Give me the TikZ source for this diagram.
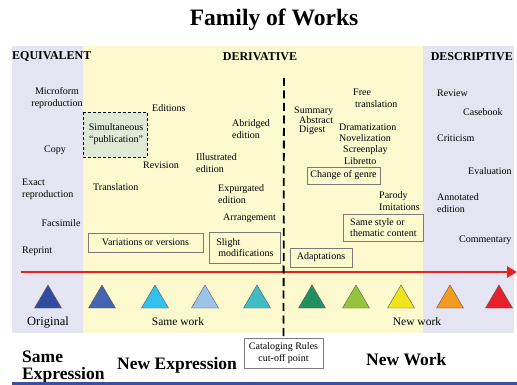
\documentclass[tikz,border=0pt]{standalone}
\usepackage{fontspec}
\setmainfont{Liberation Serif}
\usetikzlibrary{arrows.meta}
\definecolor{lav}{HTML}{E4E4F2}
\definecolor{ylw}{HTML}{FCF9CF}
\definecolor{grn}{HTML}{DFEAD6}
\definecolor{boxline}{HTML}{7A7A7A}
\definecolor{arrred}{HTML}{E82020}
\definecolor{botblue}{HTML}{3B4F9C}
\definecolor{t1}{HTML}{2F4C9E}
\definecolor{t2}{HTML}{4464B0}
\definecolor{t3}{HTML}{32C0EC}
\definecolor{t4}{HTML}{9CC4E8}
\definecolor{t5}{HTML}{40BCC4}
\definecolor{t6}{HTML}{22905E}
\definecolor{t7}{HTML}{94C43C}
\definecolor{t8}{HTML}{F0E41C}
\definecolor{t9}{HTML}{F49A1E}
\definecolor{t10}{HTML}{E8202A}
\tikzset{
  lbl/.style={inner sep=0pt, font=\fontsize{10}{12}\selectfont, align=left},
  lblw/.style={lbl, anchor=west},
  hdr/.style={inner sep=0pt, font=\fontsize{12}{14}\selectfont\bfseries},
  big/.style={inner sep=0pt, font=\fontsize{17.5}{16.5}\selectfont\bfseries, align=left},
  framebox/.style={draw=boxline, line width=0.8pt, fill=ylw, inner sep=0pt, font=\fontsize{10}{11}\selectfont, align=left},
  tri/.style={draw=gray!70!black, line width=0.4pt},
}
\begin{document}
\begin{tikzpicture}[x=1pt,y=-1pt]
\useasboundingbox (0,0) rectangle (517,385);
% background panels
\fill[lav] (12,46) rectangle (83,333);
\fill[ylw] (83,46) rectangle (423,333);
\fill[lav] (423,46) rectangle (514,333);
% title
\node[inner sep=0pt, font=\fontsize{23.5}{26}\selectfont\bfseries] (title) at (274,20) {Family of Works};
% headers
\node[hdr, anchor=west] (hEq) at (12,57) {EQUIVALENT};
\node[hdr] (hDer) at (260,57) {DERIVATIVE};
\node[hdr, anchor=east] (hDes) at (513,57) {DESCRIPTIVE};
% equivalent
\node[lbl, align=center] (micro) at (57,98) {Microform\\reproduction};
\node[lbl] (copy) at (55,150) {Copy};
\node[lblw] (exact) at (22,189) {Exact\\reproduction};
\node[lbl] (facs) at (61,223) {Facsimile};
\node[lblw] (reprint) at (22,251) {Reprint};
% derivative, same work
\draw[dashed, line width=0.9pt, dash pattern=on 3pt off 2pt, fill=grn] (83,112) rectangle (147,157);
\node[lbl, align=center] (simul) at (116,134) {Simultaneous\\“publication”};
\node[lblw] (editions) at (152,108) {Editions};
\node[lblw] (revision) at (143,165) {Revision};
\node[lblw] (illus) at (196,163) {Illustrated\\edition};
\node[lblw] (abr) at (232,129) {Abridged\\edition};
\node[lblw] (transl) at (93,187) {Translation};
\node[lblw] (expur) at (218,194) {Expurgated\\edition};
\node[lblw] (arr) at (223,218) {Arrangement};
\node[framebox, minimum width=115pt, minimum height=19pt, align=center] (var) at (145.5,242.5) {Variations or versions};
\node[framebox, minimum width=71pt, minimum height=31pt, anchor=north west, inner xsep=6pt, inner ysep=4pt] (slight) at (209,232) {Slight\\\hspace*{2pt}modifications};
% derivative, new work
\node[lblw, font=\fontsize{10}{8.6}\selectfont] (summ) at (294,120.5) {Summary\\\hspace*{5pt}Abstract\\\hspace*{5pt}Digest};
\node[lblw] (free) at (353,98) {Free\\\hspace*{2pt}translation};
\node[lblw, font=\fontsize{10}{11.3}\selectfont] (drama) at (339,144) {Dramatization\\Novelization\\\hspace*{4pt}Screenplay\\\hspace*{5pt}Libretto};
\node[framebox, minimum width=73pt, minimum height=17pt, align=center] (genre) at (343.5,175.5) {Change of genre};
\node[lblw] (parody) at (379,201.5) {Parody\\Imitations};
\node[framebox, minimum width=80pt, minimum height=27pt, anchor=north west, inner xsep=5pt] (style) at (343,214) {Same style or\\thematic content};
\node[framebox, minimum width=62pt, minimum height=19pt, align=center] (adapt) at (321,257.5) {Adaptations};
% descriptive
\node[lblw] (review) at (437,93) {Review};
\node[lblw] (case) at (463,112) {Casebook};
\node[lblw] (crit) at (437,138) {Criticism};
\node[lblw] (eval) at (468,171) {Evaluation};
\node[lblw] (annot) at (437,203) {Annotated\\edition};
\node[lblw] (comm) at (459,240) {Commentary};
% red arrow
\coordinate (aL) at (21,272);
\coordinate (aR) at (517,272);
\draw[arrred, line width=2.6pt, -{Triangle[length=10pt,width=11pt]}] (aL) -- (aR);
% triangles
\foreach \x/\c in {48/t1,102/t2,155/t3,205/t4,257/t5,312/t6,356/t7,401/t8,450/t9,499/t10}{
  \draw[tri, fill=\c] (\x-13.5,308) -- (\x,285) -- (\x+13.5,308) -- cycle;
}
% bottom labels in panel
\node[inner sep=0pt, font=\fontsize{12.5}{14}\selectfont] (orig) at (48,323) {Original};
\node[inner sep=0pt, font=\fontsize{11.5}{13}\selectfont] (samew) at (178,322) {Same work};
\node[inner sep=0pt, font=\fontsize{11.5}{13}\selectfont] (neww) at (417,322) {New work};
% cut-off
\node[draw=boxline, line width=0.8pt, fill=white, minimum width=79pt, minimum height=30pt, inner sep=0pt, align=center, font=\fontsize{10}{12}\selectfont] (cut) at (283.5,353) {Cataloging Rules\\cut-off point};
\coordinate (dtop) at (284,78);
\draw[line width=1.8pt, dash pattern=on 8pt off 4.5pt] (dtop) -- (cut.north);
% big labels
\node[big, anchor=west] (sameexp) at (22,367) {Same\\Expression};
\node[big, anchor=west] (newexp) at (117,365) {New Expression};
\node[big, anchor=west] (newwork) at (366,360) {New Work};
% bottom line
\coordinate (bl) at (12,383.5);
\coordinate (br) at (517,383.5);
\draw[botblue, line width=3pt] (bl) -- (br);
\end{tikzpicture}
\end{document}
